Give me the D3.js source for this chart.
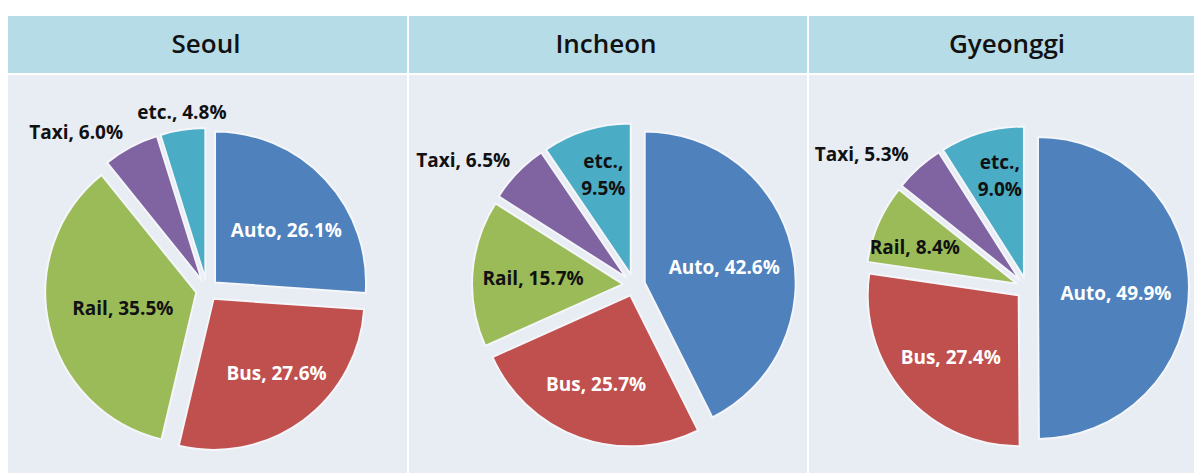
<!DOCTYPE html>
<html><head><meta charset="utf-8">
<script src="https://cdn.jsdelivr.net/npm/d3@7"></script>
<style>html,body{margin:0;padding:0;background:#fff;}svg{display:block;}</style>
</head><body>
<script>
// ---- data ----
const regions = ["Seoul", "Incheon", "Gyeonggi"];
const modes = ["Auto", "Bus", "Rail", "Taxi", "etc."];
const seoulShares = [26.1, 27.6, 35.5, 6.0, 4.8];
const incheonShares = [42.6, 25.7, 15.7, 6.5, 9.5];
const gyeonggiShares = [49.9, 27.4, 8.4, 5.3, 9.0];

// ---- layout / style (not data) ----
const W = 1194, H = 475;
const colors = ["#4f81bd", "#c0504d", "#9bbb59", "#8064a2", "#4bacc6"];
const textColors = ["#ffffff", "#ffffff", "#111111", "#111111", "#111111"];
const panels = [
  {x0: 8, x1: 407, cx: 207, cy: 290, title: 206},
  {x0: 409, x1: 807, cx: 634, cy: 285, title: 606},
  {x0: 809, x1: 1194, cx: 1027, cy: 288, title: 1007}
];
// label placement: [angle shift from bisector (deg), radius factor, two-line?]
const labelPlacement = [
  [[5.8, 0.66], [-3.4, 0.72], [0.7, 0.57], [-11.5, 1.36], [0.6, 1.19]],
  [[2, 0.61], [1.4, 0.70], [0, 0.67], [-8, 1.40], [2, 0.78, true]],
  [[3.5, 0.59], [-1, 0.68], [-3.5, 0.79], [-9, 1.41], [3, 0.79, true]]
];
const R = 151, explode = 11;
const headerTop = 16, headerBot = 73, bodyTop = 75, bodyBot = 473;

const allShares = [seoulShares, incheonShares, gyeonggiShares];

const svg = d3.select("body").append("svg").attr("width", W).attr("height", H);

const pie = d3.pie().sort(null).value(d => d.v);
const arc = d3.arc().innerRadius(0).outerRadius(R);

panels.forEach((p, i) => {
  svg.append("rect").attr("x", p.x0).attr("y", headerTop).attr("width", p.x1 - p.x0).attr("height", headerBot - headerTop).attr("fill", "#b6dce7");
  svg.append("rect").attr("x", p.x0).attr("y", bodyTop).attr("width", p.x1 - p.x0).attr("height", bodyBot - bodyTop).attr("fill", "#e8ecf3");
  svg.append("text").attr("x", p.title).attr("y", 53).attr("text-anchor", "middle")
    .attr("font-family", "Open Sans").attr("font-weight", 600).attr("font-size", 26).attr("fill", "#111")
    .text(regions[i]);

  const data = modes.map((m, k) => ({m, v: allShares[i][k], k}));
  const arcs = pie(data);
  const g = svg.append("g").attr("transform", `translate(${p.cx},${p.cy})`);
  g.selectAll("path").data(arcs).join("path")
    .attr("d", arc)
    .attr("transform", d => {
      const a = (d.startAngle + d.endAngle) / 2;
      return `translate(${explode * Math.sin(a)},${-explode * Math.cos(a)})`;
    })
    .attr("fill", d => colors[d.data.k])
    .attr("stroke", "#f4f6fa").attr("stroke-width", 2).attr("stroke-linejoin", "round");

  arcs.forEach(d => {
    const lp = labelPlacement[i][d.data.k];
    const a = (d.startAngle + d.endAngle) / 2 + lp[0] * Math.PI / 180;
    const rr = R * lp[1];
    const x = rr * Math.sin(a), y = -rr * Math.cos(a);
    const pct = d3.format(".1f")(d.data.v) + "%";
    const t = g.append("text").attr("x", x).attr("y", y).attr("text-anchor", "middle")
      .attr("font-family", "Open Sans").attr("font-weight", 700).attr("font-size", 19)
      .attr("fill", textColors[d.data.k]);
    if (lp[2]) {
      t.append("tspan").attr("x", x).attr("dy", "-0.15em").text(d.data.m + ",");
      t.append("tspan").attr("x", x).attr("dy", "1.4em").text(pct);
    } else {
      t.attr("dy", "0.36em").text(d.data.m + ", " + pct);
    }
  });
});
</script>
</body></html>
